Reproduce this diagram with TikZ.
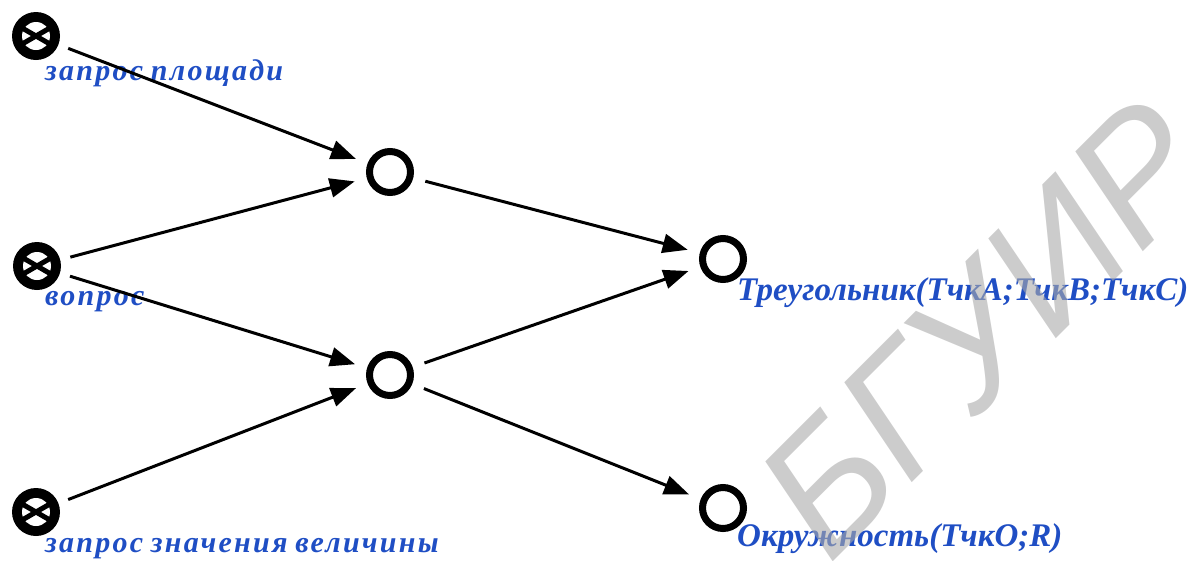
\documentclass[tikz,border=0pt]{standalone}
\usepackage{fontspec}
\setmainfont{Liberation Serif}
\newfontfamily\wmfont{Liberation Sans}
\newfontfamily\spacedfont{Liberation Serif}[LetterSpace=7.5,WordSpace=0.8]
\usetikzlibrary{arrows.meta}
\definecolor{lblblue}{RGB}{31,78,196}
\definecolor{wmgray}{RGB}{170,170,170}
\begin{document}
\begin{tikzpicture}[x=1pt,y=-1pt,
  src/.style={circle, fill=black, minimum size=48pt, inner sep=0pt, outer sep=10.5pt,
    path picture={
      \fill[white] (path picture bounding box.center) circle (14pt);
      \draw[line width=5pt]
        ([shift={(30:16pt)}]path picture bounding box.center) --
        ([shift={(210:16pt)}]path picture bounding box.center);
      \draw[line width=5pt]
        ([shift={(150:16pt)}]path picture bounding box.center) --
        ([shift={(330:16pt)}]path picture bounding box.center);
    }},
  mid/.style={circle, draw=black, line width=7pt, minimum size=41pt, inner sep=0pt, outer sep=16pt},
  conn/.style={line width=3pt, -{Triangle[length=25pt,width=19pt]}},
  lbl/.style={inner sep=0pt, anchor=base west, text=lblblue,
    font=\fontsize{33}{36}\selectfont\bfseries\itshape},
  spaced/.style={font=\fontsize{30}{34}\selectfont\spacedfont\bfseries\itshape},
  wm/.style={inner sep=0pt, anchor=base west, rotate=45, text=wmgray, text opacity=0.6,
    font=\fontsize{172}{172}\selectfont\wmfont\itshape}]
\useasboundingbox (0,0) rectangle (1194,560);

% sources
\node[src] (s1) at (36,36) {};
\node[src] (s2) at (37,266) {};
\node[src] (s3) at (36,512) {};

% intermediate and result vertices
\node[mid] (m1) at (390,172) {};
\node[mid] (m2) at (390,375) {};
\node[mid] (r1) at (723,259) {};
\node[mid] (r2) at (723,508) {};

% labels
\node[lbl, spaced] (l1) at (45,80) {запрос площади};
\node[lbl, spaced] (l2) at (45,305) {вопрос};
\node[lbl, spaced] (l3) at (45,552) {запрос значения величины};
\node[lbl] (l4) at (737,300) {Треугольник(ТчкА;ТчкВ;ТчкС)};
\node[lbl] (l5) at (737,546) {Окружность(ТчкО;R)};

% connectors
\draw[conn] (s1) -- (m1);
\draw[conn] (s2) -- (m1);
\draw[conn] (s2) -- (m2);
\draw[conn] (s3) -- (m2);
\draw[conn] (m1) -- (r1);
\draw[conn] (m2) -- (r1);
\draw[conn] (m2) -- (r2);

% watermark
\node[wm] (mark) at (829,566) {БГУИР};
\end{tikzpicture}
\end{document}
